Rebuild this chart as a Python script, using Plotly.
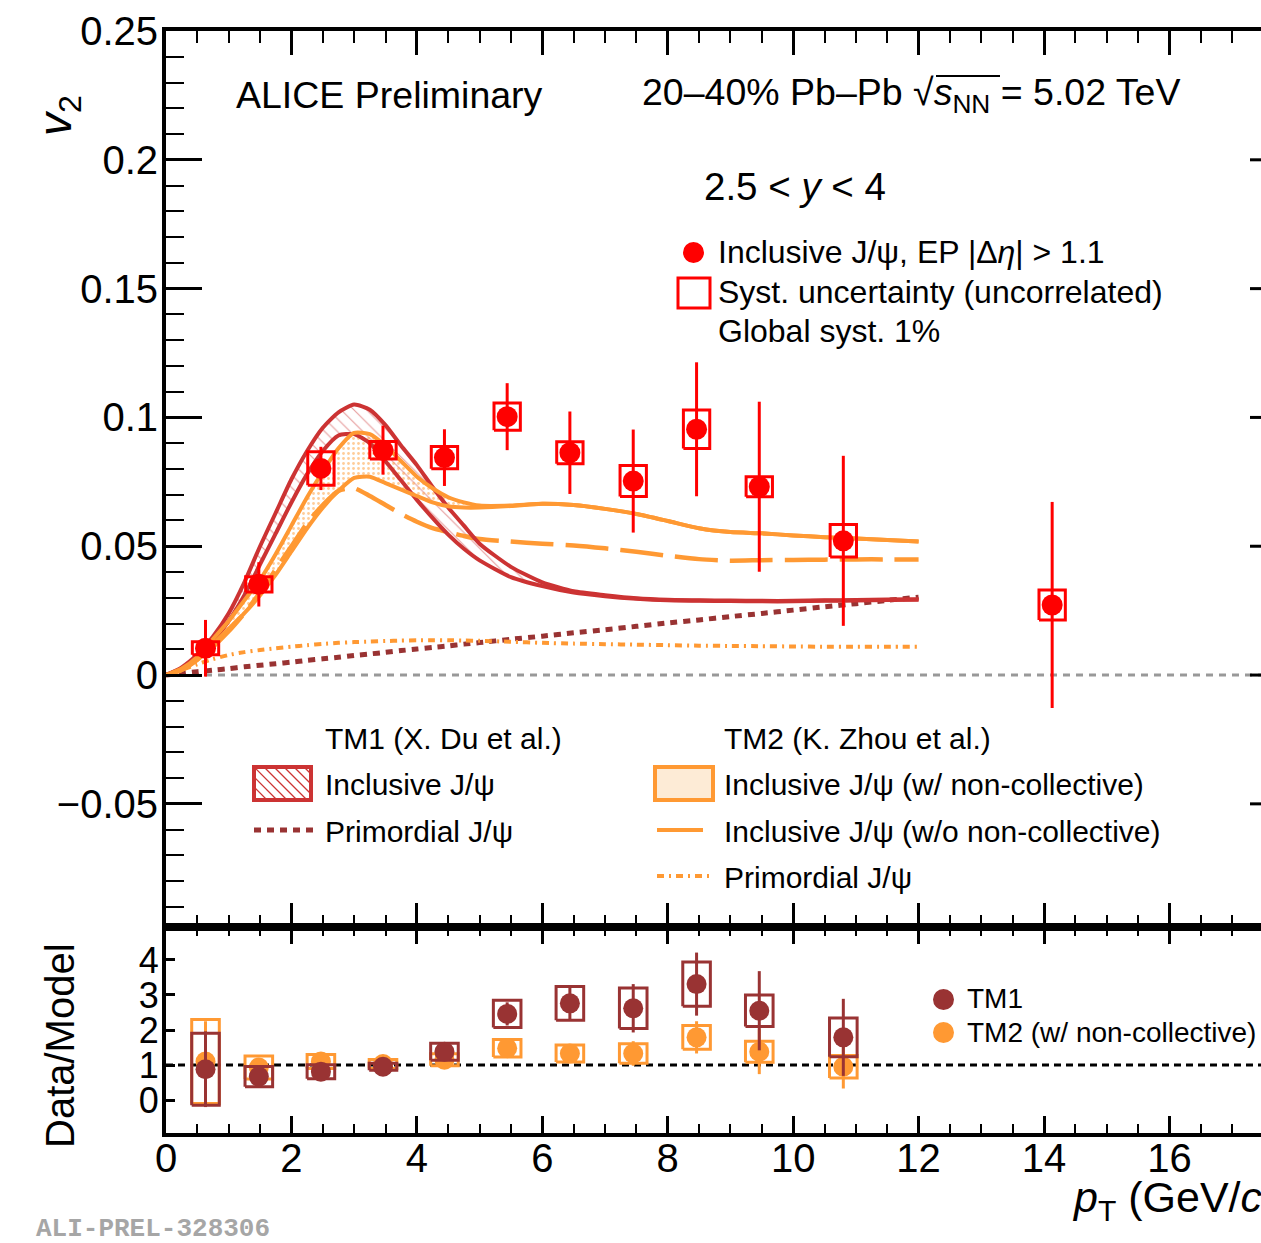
import plotly.graph_objects as go

# ---------------- Data ----------------
pt_data = [0.63, 1.48, 2.47, 3.46, 4.44, 5.44, 6.44, 7.45, 8.46, 9.46, 10.8, 14.13]
v2_data = [0.0104, 0.0352, 0.0802, 0.0873, 0.0844, 0.1003, 0.0863, 0.0753, 0.0954, 0.0731, 0.0521, 0.0272]
v2_stat = [0.0110, 0.0086, 0.0084, 0.0095, 0.0110, 0.0130, 0.0160, 0.0200, 0.0260, 0.0330, 0.0330, 0.0400]
v2_syst = [0.0025, 0.0030, 0.0065, 0.0034, 0.0043, 0.0053, 0.0043, 0.0060, 0.0075, 0.0039, 0.0063, 0.0058]

pt_model = [0, 0.25, 0.5, 0.75, 1.0, 1.25, 1.5, 1.75, 2.0, 2.25, 2.5, 2.75, 3.0, 3.25, 3.5, 3.75,
            4.0, 4.25, 4.5, 4.75, 5.0, 5.5, 6.0, 6.5, 7.0, 7.5, 8.0, 8.5, 9.0, 9.5, 10.0, 10.5,
            11.0, 11.5, 12.0]
tm1_incl_hi = [0, 0.003, 0.008, 0.015, 0.024, 0.036, 0.050, 0.063, 0.076, 0.087, 0.096, 0.102,
               0.105, 0.103, 0.097, 0.089, 0.0815, 0.073, 0.065, 0.058, 0.051, 0.042, 0.036,
               0.0325, 0.031, 0.0298, 0.0292, 0.029, 0.0289, 0.0288, 0.0288, 0.029, 0.0291,
               0.0293, 0.0294]
tm1_incl_lo = [0, 0.0025, 0.007, 0.013, 0.021, 0.031, 0.043, 0.055, 0.067, 0.078, 0.087, 0.093,
               0.0935, 0.090, 0.083, 0.0755, 0.068, 0.061, 0.0545, 0.049, 0.0445, 0.038, 0.0345,
               0.032, 0.0306, 0.0296, 0.029, 0.0288, 0.0287, 0.0286, 0.0286, 0.0288, 0.0289,
               0.0291, 0.0292]
tm1_prim = [0, 0.0006, 0.0013, 0.0019, 0.0025, 0.0032, 0.0038, 0.0044, 0.0050, 0.0057, 0.0063,
            0.0069, 0.0076, 0.0082, 0.0088, 0.0095, 0.0101, 0.0107, 0.0113, 0.0120, 0.0126,
            0.0139, 0.0151, 0.0164, 0.0176, 0.0189, 0.0202, 0.0214, 0.0227, 0.0239, 0.0252,
            0.0265, 0.0277, 0.0290, 0.0302]
tm2_incl_hi = [0, 0.0025, 0.007, 0.014, 0.021, 0.029, 0.037, 0.047, 0.058, 0.069, 0.079, 0.088,
               0.094, 0.0935, 0.089, 0.083, 0.077, 0.0725, 0.069, 0.067, 0.0658, 0.0658, 0.0665,
               0.066, 0.0645, 0.0625, 0.0598, 0.057, 0.0555, 0.055, 0.0542, 0.0535, 0.053,
               0.0524, 0.0518]
tm2_incl_lo = [0, 0.002, 0.006, 0.012, 0.018, 0.024, 0.031, 0.039, 0.048, 0.057, 0.065, 0.0715,
               0.0765, 0.077, 0.0745, 0.072, 0.0695, 0.067, 0.0655, 0.065, 0.065, 0.0656, 0.0665,
               0.066, 0.0645, 0.0625, 0.0598, 0.057, 0.0555, 0.055, 0.0542, 0.0535, 0.053,
               0.0524, 0.0518]
tm2_nocoll = [0, 0.002, 0.006, 0.011, 0.017, 0.024, 0.032, 0.041, 0.050, 0.059, 0.066, 0.0715,
              0.0725, 0.0695, 0.066, 0.0625, 0.0595, 0.057, 0.0555, 0.054, 0.0528, 0.0518, 0.051,
              0.0503, 0.0492, 0.0479, 0.0463, 0.045, 0.0444, 0.0446, 0.0447, 0.0448, 0.0449,
              0.0449, 0.0449]
tm2_prim = [0, 0.002, 0.0042, 0.0062, 0.0078, 0.0089, 0.0097, 0.0104, 0.011, 0.0116, 0.0121,
            0.0125, 0.0128, 0.013, 0.0132, 0.0134, 0.0135, 0.0135, 0.0135, 0.0134, 0.0133,
            0.0129, 0.0125, 0.0122, 0.012, 0.0118, 0.0116, 0.0114, 0.0113, 0.0112, 0.0111,
            0.011, 0.011, 0.011, 0.011]

pt_ratio = [0.63, 1.48, 2.47, 3.46, 4.44, 5.44, 6.44, 7.45, 8.46, 9.46, 10.8]
r_tm1 = [0.88, 0.67, 0.81, 0.95, 1.38, 2.46, 2.76, 2.62, 3.31, 2.55, 1.79]
r_tm1_stat = [1.08, 0.17, 0.10, 0.10, 0.18, 0.33, 0.50, 0.69, 0.90, 1.13, 1.10]
r_tm1_syst = [1.03, 0.29, 0.20, 0.10, 0.24, 0.39, 0.48, 0.58, 0.63, 0.45, 0.55]
r_tm2 = [1.10, 0.93, 1.10, 1.03, 1.15, 1.48, 1.33, 1.33, 1.79, 1.38, 0.95]
r_tm2_stat = [1.15, 0.24, 0.12, 0.11, 0.15, 0.19, 0.25, 0.35, 0.46, 0.64, 0.62]
r_tm2_syst = [1.20, 0.33, 0.20, 0.13, 0.17, 0.25, 0.24, 0.28, 0.34, 0.30, 0.32]

x_ticks = [0, 2, 4, 6, 8, 10, 12, 14, 16]
y_ticks_top = [0.25, 0.2, 0.15, 0.1, 0.05, 0, -0.05]
y_ticklabels_top = ["0.25", "0.2", "0.15", "0.1", "0.05", "0", "\u22120.05"]
y_ticks_bot = [0, 1, 2, 3, 4]

# ---------------- Style ----------------
RED = "#ff0000"
TM1C = "#cc3333"
TM1D = "#993333"
TM2C = "#ff9933"
FONT = "Liberation Sans, Arial, Helvetica, sans-serif"

W, H = 1261, 1243
L, T, B = 166, 31, 1133
SPLIT = 927
XMAX = 17.46
BOXW = 0.21


def fx(X):
    return (X - L) / (W - L)


def fy(Y):
    return (B - Y) / (B - T)


def boxes(xs, ys, ds, hw):
    bx, by = [], []
    for x, y, d in zip(xs, ys, ds):
        bx += [x - hw, x + hw, x + hw, x - hw, x - hw, None]
        by += [y - d, y - d, y + d, y + d, y - d, None]
    return bx, by


fig = go.Figure()
top = dict(xaxis="x2", yaxis="y2")

# TM1 hatched band
fig.add_trace(go.Scatter(x=pt_model + pt_model[::-1], y=tm1_incl_hi + tm1_incl_lo[::-1],
                         mode="none", fill="toself", fillcolor="rgba(0,0,0,0)",
                         fillpattern=dict(shape="\\", fgcolor=TM1C, bgcolor="rgba(0,0,0,0)",
                                          size=9, solidity=0.12, fillmode="overlay"),
                         hoverinfo="skip", **top))
# TM2 dotted band
fig.add_trace(go.Scatter(x=pt_model + pt_model[::-1], y=tm2_incl_hi + tm2_incl_lo[::-1],
                         mode="none", fill="toself", fillcolor="rgba(0,0,0,0)",
                         fillpattern=dict(shape=".", fgcolor=TM2C, bgcolor="rgba(0,0,0,0)",
                                          size=5, solidity=0.25, fillmode="overlay"),
                         hoverinfo="skip", **top))


def curve(y, color, width, dash="solid"):
    fig.add_trace(go.Scatter(x=pt_model, y=y, mode="lines",
                             line=dict(color=color, width=width, dash=dash, shape="spline",
                                       smoothing=0.6),
                             hoverinfo="skip", **top))


curve(tm1_prim, TM1D, 5, "7px,6px")
curve(tm2_prim, TM2C, 4, "7px,5px,2px,5px")
curve(tm2_nocoll, TM2C, 4.5, "43px,12px")
curve(tm1_incl_hi, TM1C, 4)
curve(tm1_incl_lo, TM1C, 4)
curve(tm2_incl_hi, TM2C, 4)
curve(tm2_incl_lo, TM2C, 4)

# data: systematic boxes, stat errors, markers
bx, by = boxes(pt_data, v2_data, v2_syst, BOXW)
fig.add_trace(go.Scatter(x=bx, y=by, mode="lines", line=dict(color=RED, width=3),
                         hoverinfo="skip", **top))
fig.add_trace(go.Scatter(x=pt_data, y=v2_data, mode="markers",
                         marker=dict(color=RED, size=21, line=dict(width=0)),
                         error_y=dict(type="data", array=v2_stat, color=RED, thickness=3, width=0),
                         **top))

# ratio panel: TM2 first, TM1 on top
for r, rs, rsy, col in [(r_tm2, r_tm2_stat, r_tm2_syst, TM2C),
                        (r_tm1, r_tm1_stat, r_tm1_syst, TM1D)]:
    bx, by = boxes(pt_ratio, r, rsy, 0.22)
    fig.add_trace(go.Scatter(x=bx, y=by, mode="lines", line=dict(color=col, width=3),
                             hoverinfo="skip", xaxis="x", yaxis="y"))
    fig.add_trace(go.Scatter(x=pt_ratio, y=r, mode="markers",
                             marker=dict(color=col, size=20, line=dict(width=0)),
                             error_y=dict(type="data", array=rs, color=col, thickness=3, width=0),
                             xaxis="x", yaxis="y"))

shapes = []
shapes.append(dict(type="line", xref="paper", yref="y2", x0=0, x1=1, y0=0, y1=0,
                   line=dict(color="#999999", width=3, dash="7px,6px"), layer="below"))
shapes.append(dict(type="line", xref="paper", yref="y", x0=0, x1=1, y0=1, y1=1,
                   line=dict(color="black", width=3, dash="7px,5px"), layer="below"))
# right-side major ticks of upper frame (frame itself lies just outside the picture)
for v in y_ticks_top[1:]:
    shapes.append(dict(type="line", xref="paper", yref="y2", x0=fx(1250), x1=1, y0=v, y1=v,
                       line=dict(color="black", width=3)))

# ---- legend glyphs ----
shapes.append(dict(type="circle", xref="paper", yref="paper", x0=fx(683), x1=fx(704),
                   y0=fy(263), y1=fy(242), fillcolor=RED, line=dict(width=0)))
shapes.append(dict(type="rect", xref="paper", yref="paper", x0=fx(678), x1=fx(710),
                   y0=fy(308), y1=fy(278), line=dict(color=RED, width=3)))
bxl, bxr, byt, byb = 254, 311, 767, 800
for c in range(-30, 60, 10):
    xa, ya = bxl + c, byt
    xb, yb = bxl + c + (byb - byt), byb
    if xa < bxl:
        ya += bxl - xa
        xa = bxl
    if xb > bxr:
        yb -= xb - bxr
        xb = bxr
    if xb > xa:
        shapes.append(dict(type="line", xref="paper", yref="paper", x0=fx(xa), y0=fy(ya),
                           x1=fx(xb), y1=fy(yb), line=dict(color=TM1C, width=1.2)))
shapes.append(dict(type="rect", xref="paper", yref="paper", x0=fx(bxl), x1=fx(bxr),
                   y0=fy(byb), y1=fy(byt), line=dict(color=TM1C, width=4)))
shapes.append(dict(type="line", xref="paper", yref="paper", x0=fx(254), x1=fx(313),
                   y0=fy(830), y1=fy(830), line=dict(color=TM1D, width=5, dash="7px,6px")))
shapes.append(dict(type="rect", xref="paper", yref="paper", x0=fx(655), x1=fx(713),
                   y0=fy(800), y1=fy(767), fillcolor="#fdebd6",
                   line=dict(color=TM2C, width=4)))
shapes.append(dict(type="line", xref="paper", yref="paper", x0=fx(657), x1=fx(703),
                   y0=fy(830), y1=fy(830), line=dict(color=TM2C, width=4)))
shapes.append(dict(type="line", xref="paper", yref="paper", x0=fx(657), x1=fx(712),
                   y0=fy(876), y1=fy(876), line=dict(color=TM2C, width=4, dash="7px,5px,2px,5px")))
shapes.append(dict(type="circle", xref="paper", yref="paper", x0=fx(933), x1=fx(954),
                   y0=fy(1010), y1=fy(989), fillcolor=TM1D, line=dict(width=0)))
shapes.append(dict(type="circle", xref="paper", yref="paper", x0=fx(933), x1=fx(954),
                   y0=fy(1043), y1=fy(1022), fillcolor=TM2C, line=dict(width=0)))
# sqrt overline
shapes.append(dict(type="line", xref="paper", yref="paper", x0=fx(936), x1=fx(1000),
                   y0=fy(76), y1=fy(76), line=dict(color="black", width=2)))

ann = []


def text(s, X, Y, size, anchor="left", angle=0, color="black", family=FONT):
    ann.append(dict(text=s, x=fx(X), y=fy(Y), xref="paper", yref="paper", showarrow=False,
                    xanchor=anchor, yanchor="middle", textangle=angle,
                    font=dict(size=size, color=color, family=family)))


text("ALICE Preliminary", 234, 95, 37.5)
text("20\u201340% Pb\u2013Pb \u221a<i>s</i><sub>NN</sub> = 5.02 TeV", 640, 95, 37.5)
text("2.5 &lt; <i>y</i> &lt; 4", 702, 186, 38.5)
text("Inclusive J/\u03c8, EP |\u0394<i>\u03b7</i>| &gt; 1.1", 716, 252, 32)
text("Syst. uncertainty (uncorrelated)", 716, 292, 32)
text("Global syst. 1%", 716, 331, 32)
text("TM1 (X. Du et al.)", 323, 738, 30)
text("Inclusive J/\u03c8", 323, 784, 30)
text("Primordial J/\u03c8", 323, 831, 30)
text("TM2 (K. Zhou et al.)", 722, 738, 30)
text("Inclusive J/\u03c8 (w/ non-collective)", 722, 784, 30)
text("Inclusive J/\u03c8 (w/o non-collective)", 722, 831, 30)
text("Primordial J/\u03c8", 722, 877, 30)
text("TM1", 965, 998, 28)
text("TM2 (w/ non-collective)", 965, 1032, 28)
text("<i>v</i><sub>2</sub>", 58, 116, 46, anchor="center", angle=-90)
text("Data/Model", 60, 1046, 40, anchor="center", angle=-90)
text("<i>p</i><sub>T</sub> (GeV/<i>c</i>)", 1278, 1200, 43, anchor="right")
text("<b>ALI-PREL-328306</b>", 34, 1229, 26, color="#a6a6a6",
     family="Liberation Mono, Courier New, monospace")

axis_common = dict(showgrid=False, zeroline=False, showline=True, linecolor="black",
                   linewidth=4, ticks="inside", tickcolor="black", tickwidth=3)

fig.update_layout(
    width=W, height=H,
    margin=dict(l=L, r=0, t=T, b=H - B, pad=0),
    paper_bgcolor="white", plot_bgcolor="white",
    showlegend=False,
    font=dict(family=FONT, color="black"),
    xaxis=dict(domain=[0, 1], anchor="y", range=[0, XMAX], tickvals=x_ticks,
               ticktext=[str(t) for t in x_ticks], ticklen=17, mirror="ticks",
               ticklabelstandoff=-13,
               minor=dict(tickmode="linear", tick0=0, dtick=0.5, ticklen=9, tickwidth=2,
                          ticks="inside", tickcolor="black"),
               tickfont=dict(size=40), **axis_common),
    yaxis=dict(domain=[0, (B - SPLIT) / (B - T)], anchor="x", range=[-0.94, 4.94],
               tickvals=y_ticks_bot, ticktext=[str(t) for t in y_ticks_bot], ticklen=9,
               ticklabelstandoff=-4,
               tickfont=dict(size=36), **axis_common),
    xaxis2=dict(domain=[0, 1], anchor="y2", matches="x", range=[0, XMAX], tickvals=x_ticks,
                showticklabels=False, ticklen=24, mirror="ticks",
                minor=dict(tickmode="linear", tick0=0, dtick=0.5, ticklen=12, tickwidth=2,
                           ticks="inside", tickcolor="black"),
                **axis_common),
    yaxis2=dict(domain=[(B - SPLIT) / (B - T), 1], anchor="x2", range=[-0.0978, 0.25],
                tickvals=y_ticks_top, ticktext=y_ticklabels_top, ticklen=36,
                ticklabelstandoff=-4,
                minor=dict(tickmode="linear", tick0=0, dtick=0.01, ticklen=18, tickwidth=2,
                           ticks="inside", tickcolor="black"),
                tickfont=dict(size=40), **axis_common),
    shapes=shapes,
    annotations=ann,
)

fig.write_html("out.html")
